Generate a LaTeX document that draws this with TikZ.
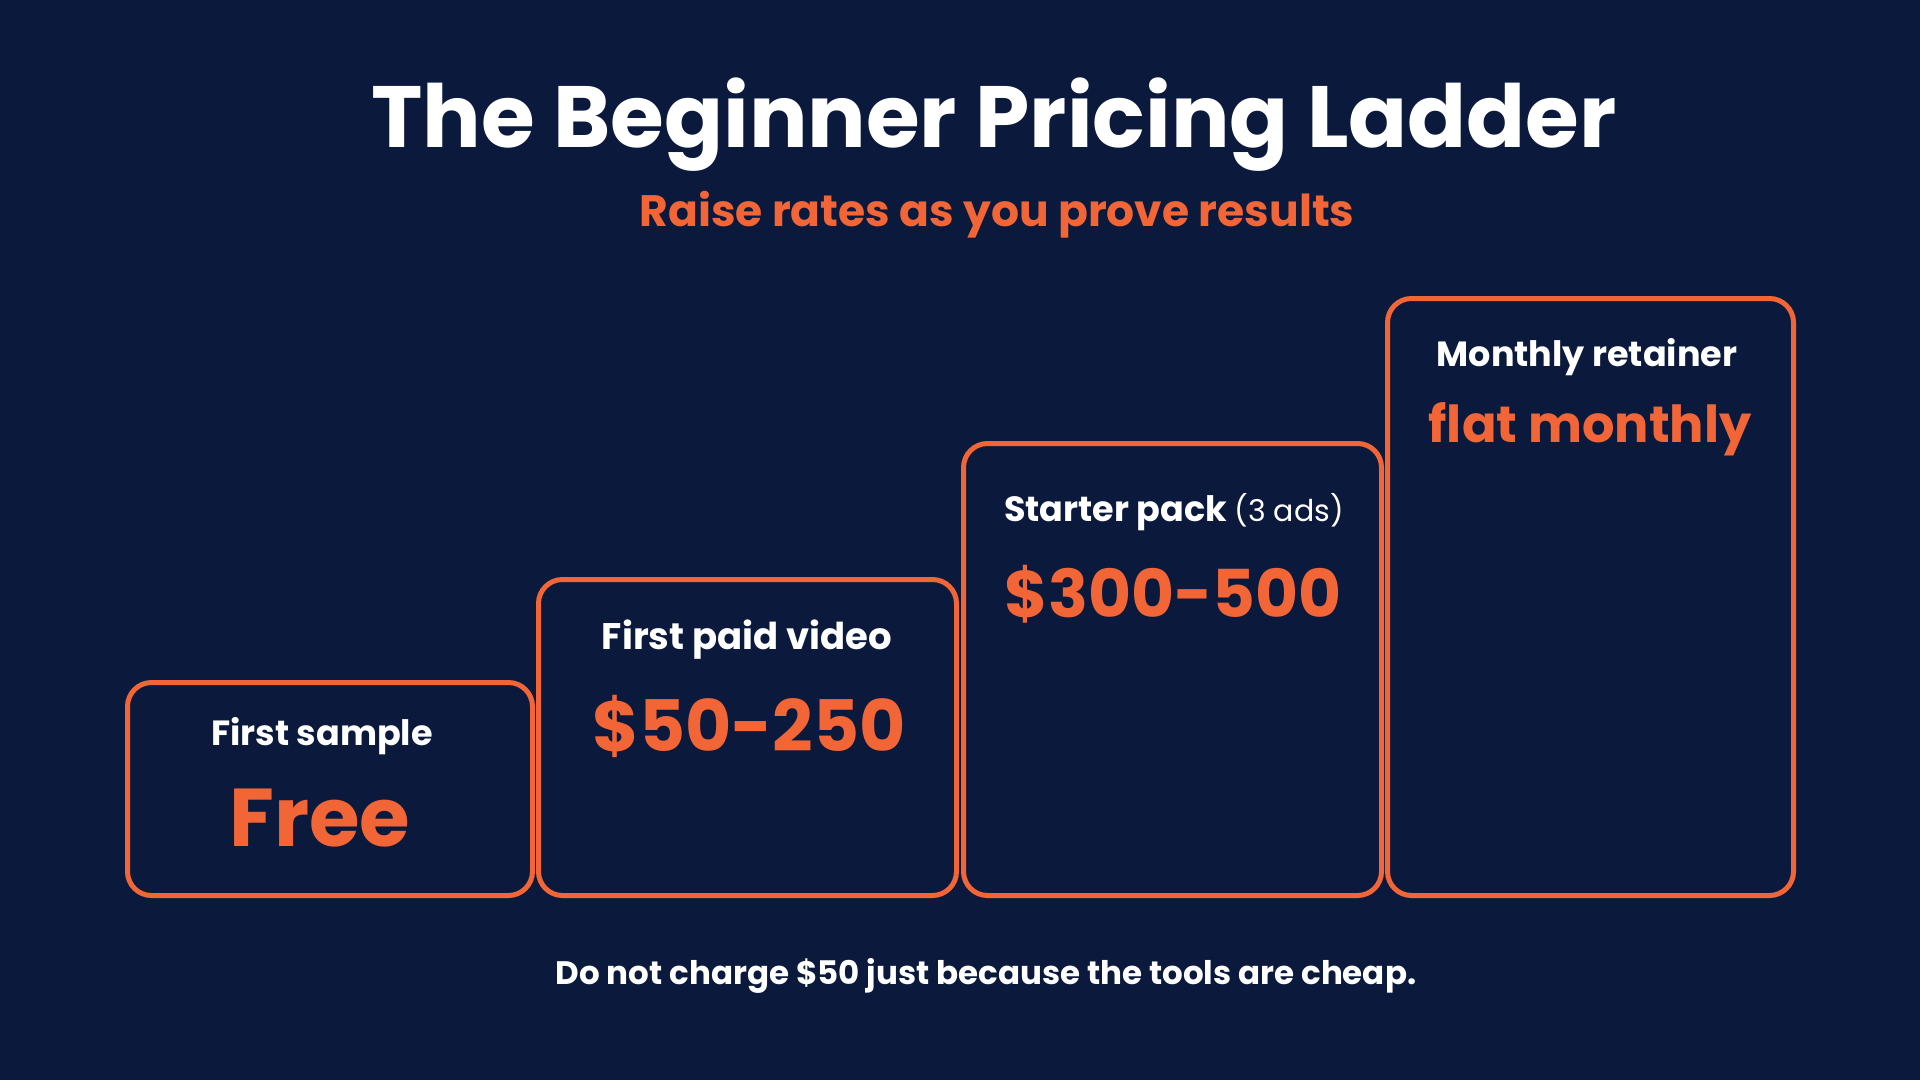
\documentclass[tikz,border=0pt]{standalone}
\usepackage{fontspec}
\setmainfont{Poppins}
\usepackage{xcolor}
\usepackage{tikz}
\usetikzlibrary{positioning}

\definecolor{fond}{HTML}{0B1A3C}
\definecolor{orange-p}{HTML}{F26536}

\newcommand{\taille}[1]{\fontsize{#1}{#1}\selectfont}

\begin{document}
\begin{tikzpicture}[x=1pt, y=-1pt, semithick]
		\tikzstyle{palier}=[draw=orange-p, line width=5pt, rounded corners=24pt, rectangle, inner sep=0pt]
		\tikzstyle{etiquette}=[text=white, font=\bfseries, inner sep=0pt]
		\tikzstyle{prix}=[text=orange-p, font=\bfseries, inner sep=0pt]
		\fill[fond] (0,0) rectangle (1920,1080);
		\useasboundingbox (0,0) rectangle (1920,1080);
		% titre
		\node[text=white, font=\bfseries\taille{87}, inner sep=0pt] (titre) at (994,125) {The Beginner Pricing Ladder};
		\node[text=orange-p, font=\bfseries\taille{44}, inner sep=0pt] (sous-titre) at (997,215) {Raise rates as you prove results};
		% paliers
		\node[palier, minimum width=405pt, minimum height=213pt] (palier-1) at (330,789) {};
		\node[palier, minimum width=418pt, minimum height=316pt] (palier-2) at (747.5,737.5) {};
		\node[palier, minimum width=418pt, minimum height=452pt] (palier-3) at (1172.5,669.5) {};
		\node[palier, minimum width=406pt, minimum height=597pt] (palier-4) at (1590.5,597) {};
		% textes
		\node[etiquette, font=\bfseries\taille{35}] (nom-1) at (322,736) {First sample};
		\node[prix, font=\bfseries\taille{82}] (prix-1) at (320,818) {Free};
		\node[etiquette, font=\bfseries\taille{37}] (nom-2) at (747,640) {First paid video};
		\node[prix, font=\bfseries\taille{71}] (prix-2) at (749,726) {\$50-250};
		\node[etiquette, font=\bfseries\taille{35}] (nom-3) at (1174,512) {Starter pack {\mdseries\taille{30}(3 ads)}};
		\node[prix, font=\bfseries\taille{66}] (prix-3) at (1173,594) {\$300-500};
		\node[etiquette, font=\bfseries\taille{35}] (nom-4) at (1587,357) {Monthly retainer};
		\node[prix, font=\bfseries\taille{51}] (prix-4) at (1590,429) {flat monthly};
		% note
		\node[text=white, font=\bfseries\taille{32.5}, inner sep=0pt] (note) at (986,976) {Do not charge \$50 just because the tools are cheap.};
\end{tikzpicture}
\end{document}
